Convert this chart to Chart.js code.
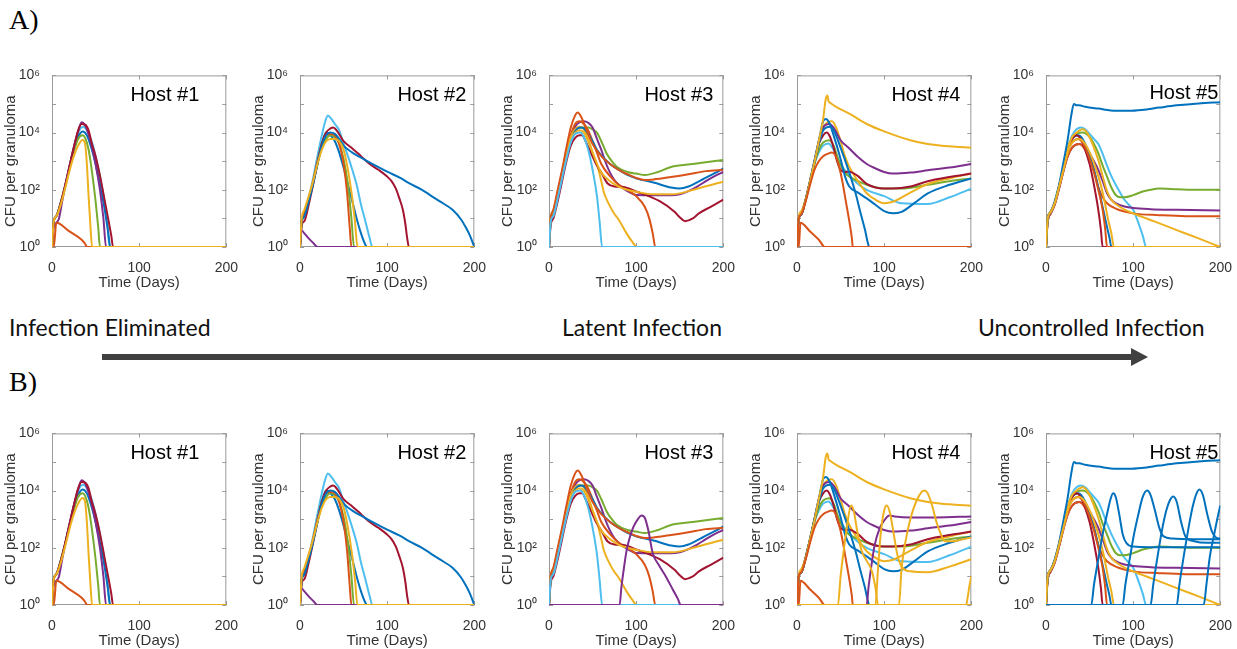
<!DOCTYPE html>
<html>
<head>
<meta charset="utf-8">
<script src="https://cdn.jsdelivr.net/npm/chart.js@4.4.1/dist/chart.umd.min.js"></script>
<style>
  body { margin: 0; width: 1237px; height: 649px; overflow: hidden; background: #fff; position: relative; }
  .panel { position: absolute; width: 241px; height: 229px; }
  .tag { position: absolute; font-family: "Liberation Serif", serif; font-size: 28px; line-height: 28px; color: #000; }
  .stage { position: absolute; font-family: Lato, "Open Sans", sans-serif; font-size: 23px; line-height: 23px; color: #111; white-space: nowrap; }
  svg { position: absolute; left: 0; top: 0; }
</style>
</head>
<body>
<div class="tag" style="left:9px;top:6px">A)</div>
<div class="tag" style="left:9px;top:368px">B)</div>
<div class="stage" style="left:9px;top:316px">Infection Eliminated</div>
<div class="stage" style="left:562px;top:316px">Latent Infection</div>
<div class="stage" style="left:978px;top:316px">Uncontrolled Infection</div>
<svg width="1237" height="649">
  <line x1="102" y1="357" x2="1133" y2="357" stroke="#404040" stroke-width="6"/>
  <polygon points="1131,348 1148,357 1131,366" fill="#404040"/>
</svg>

<div class="panel" style="left:2px;top:63px"><canvas id="a1"></canvas></div>
<div class="panel" style="left:250px;top:63px"><canvas id="a2"></canvas></div>
<div class="panel" style="left:499px;top:63px"><canvas id="a3"></canvas></div>
<div class="panel" style="left:747px;top:63px"><canvas id="a4"></canvas></div>
<div class="panel" style="left:996px;top:63px"><canvas id="a5"></canvas></div>
<div class="panel" style="left:2px;top:421px"><canvas id="b1"></canvas></div>
<div class="panel" style="left:250px;top:421px"><canvas id="b2"></canvas></div>
<div class="panel" style="left:499px;top:421px"><canvas id="b3"></canvas></div>
<div class="panel" style="left:747px;top:421px"><canvas id="b4"></canvas></div>
<div class="panel" style="left:996px;top:421px"><canvas id="b5"></canvas></div>

<script>
// axis ticks
const xTickValues = [0, 100, 200];
const yTickValues = [1, 100, 1e4, 1e6];
const yTickLabels = ["10\u2070", "10\u00b2", "10\u2074", "10\u2076"];
const hostNames = ["Host #1", "Host #2", "Host #3", "Host #4", "Host #5"];

// each curve: [day, CFU] pairs (0 CFU drawn on the 10^0 floor)
const hostA1 = [
  [[0,1],[2,8],[5,12],[10,35],[15,140],[20,650],[25,3000],[30,1e4],[36,1.6e4],[40,1.2e4],[45,5500],[50,1500],[55,300],[60,40],[64,5],[66,1],[200,1]],
  [[0,1],[2,8],[5,12],[10,35],[15,130],[20,600],[25,2500],[30,7000],[35,1.1e4],[40,8000],[45,3000],[50,800],[55,150],[60,25],[64,4],[67,1],[200,1]],
  [[0,1],[2,8],[5,12],[10,35],[15,130],[20,550],[25,2200],[30,6000],[35,8000],[38,6500],[42,2500],[46,400],[50,40],[53,5],[55,1],[200,1]],
  [[0,1],[2,5],[5,7],[8,10],[12,45],[15,130],[20,650],[25,3000],[30,1.1e4],[34,2.3e4],[37,2e4],[40,1.3e4],[45,4000],[50,800],[55,100],[59,10],[62,1],[200,1]],
  [[0,1],[2,1],[5,7],[20,3.5],[34,1.8],[38,1.3],[40,1],[200,1]],
  [[0,1],[2,8],[5,12],[10,35],[15,140],[20,650],[25,3000],[30,1.2e4],[34,2e4],[38,1.9e4],[42,1.2e4],[45,5000],[50,1500],[55,320],[60,50],[65,8],[68,2.5],[70,1],[200,1]],
  [[0,1],[2,8],[5,12],[10,30],[15,110],[20,450],[25,1500],[30,3500],[35,5500],[38,4000],[40,800],[42,60],[44,6],[46,1],[200,1]]
];
const hostA1Colors = ["lightblue", "blue", "green", "purple", "orange", "red", "yellow"];

const hostA2 = [
  [[0,1],[2,8],[5,12],[10,50],[15,250],[20,1500],[25,8000],[29,2.5e4],[32,4e4],[36,3e4],[40,2e4],[45,1.2e4],[50,4000],[55,1500],[60,500],[65,150],[70,30],[75,8],[80,2],[83,1],[200,1]],
  [[0,1],[2,8],[5,12],[10,40],[15,180],[20,900],[25,4000],[30,1e4],[35,8000],[40,5000],[45,2000],[50,600],[55,150],[60,40],[65,10],[70,3],[75,1.2],[77,1],[200,1]],
  [[0,1],[2,8],[5,14],[10,45],[15,180],[20,800],[25,3000],[30,6000],[35,8000],[40,7000],[45,4000],[50,1200],[55,150],[59,10],[62,1],[200,1]],
  [[0,1],[2,8],[5,15],[10,50],[15,200],[20,1000],[25,4000],[30,8000],[35,9000],[40,8000],[45,4000],[50,800],[54,80],[57,5],[59,1],[200,1]],
  [[0,1],[2,6],[5,8],[10,30],[15,150],[20,800],[25,4000],[30,1e4],[35,1.4e4],[38,1.5e4],[42,1.2e4],[50,5000],[60,2800],[70,1500],[80,800],[90,500],[100,290],[105,200],[110,110],[114,50],[118,20],[121,6],[123,2],[125,1],[200,1]],
  [[0,1],[2,8],[5,12],[10,40],[15,160],[20,800],[25,3500],[30,8000],[35,1e4],[40,9000],[45,6000],[50,3500],[60,2000],[75,1100],[90,620],[100,430],[115,260],[125,170],[140,100],[150,63],[160,40],[175,20],[185,9],[190,5],[195,2.5],[200,1]],
  [[0,1],[1,4],[5,3],[10,2],[15,1.4],[20,1],[200,1]],
  [[0,1],[2,10],[5,20],[10,60],[15,200],[20,800],[25,2500],[30,5000],[35,6000],[40,6000],[45,5000],[50,2500],[55,500],[60,50],[63,8],[66,1],[200,1]]
];
const hostA2Colors = ["lightblue", "blue", "green", "orange", "red", "blue", "purple", "yellow"];

const hostA3 = [
  [[0,1],[2,10],[5,15],[10,70],[15,350],[20,1800],[25,7000],[30,1.3e4],[35,1.5e4],[45,1.5e4],[50,1.3e4],[55,1e4],[60,5000],[66,1900],[72,1000],[78,630],[90,420],[100,370],[110,330],[125,420],[140,630],[165,800],[200,1100]],
  [[0,1],[2,10],[5,15],[10,70],[15,350],[20,1800],[25,7000],[30,1.6e4],[35,2.3e4],[40,2.5e4],[45,2.2e4],[50,1.5e4],[55,6000],[60,2500],[65,900],[70,400],[75,220],[80,150],[90,90],[100,66],[120,65],[140,65],[150,70],[160,90],[170,130],[180,200],[190,300],[200,420]],
  [[0,1],[2,10],[5,18],[10,80],[15,400],[20,2000],[25,8000],[30,2e4],[35,2.5e4],[40,2e4],[45,1.2e4],[50,5000],[55,2000],[60,800],[70,300],[80,150],[90,100],[100,60],[110,25],[115,10],[119,3],[122,1],[200,1]],
  [[0,1],[2,10],[5,18],[10,80],[15,400],[20,2000],[25,7000],[30,1.3e4],[35,1.6e4],[40,1.3e4],[45,6000],[50,2000],[55,800],[60,200],[63,80],[68,35],[74,16],[80,9],[89,3],[95,1.6],[101,1],[200,1]],
  [[0,1],[2,6],[5,10],[10,40],[15,200],[20,1000],[25,3500],[30,6500],[35,8000],[38,8000],[42,5000],[48,2000],[55,700],[60,400],[67,170],[75,130],[85,125],[100,87],[127,40],[144,17],[150,11],[156,8],[165,10],[172,15],[185,25],[200,45]],
  [[0,1],[2,8],[5,14],[10,60],[15,300],[20,1500],[25,5000],[30,1.1e4],[36,1.5e4],[40,1.4e4],[45,9000],[50,5000],[55,2500],[60,1600],[70,800],[80,500],[90,330],[100,250],[120,180],[140,120],[150,110],[160,130],[175,220],[190,380],[200,560]],
  [[0,1],[2,10],[5,18],[10,70],[15,350],[20,1700],[25,6000],[30,1e4],[35,1.2e4],[40,1e4],[45,5000],[50,2000],[55,800],[60,400],[70,200],[80,130],[90,100],[100,85],[120,70],[140,70],[150,75],[160,90],[175,120],[190,160],[200,190]],
  [[0,1],[2,10],[5,20],[10,100],[15,500],[20,3000],[25,1.5e4],[30,4e4],[33,5e4],[37,3.5e4],[42,1.5e4],[50,4000],[60,1500],[70,800],[80,500],[90,350],[100,260],[110,220],[120,230],[140,280],[160,350],[180,450],[200,500]],
  [[0,1],[2,8],[5,12],[10,50],[15,250],[20,1200],[25,4500],[30,9000],[36,1e4],[40,7000],[45,2500],[50,500],[55,60],[58,8],[61,1],[200,1]]
];
const hostA3Colors = ["green", "purple", "orange", "yellow", "red", "blue", "yellow", "orange", "lightblue"];

const hostA4 = [
  [[0,1],[2,10],[5,14],[10,45],[15,200],[20,800],[25,2000],[30,3500],[36,4200],[42,2500],[50,800],[60,320],[70,160],[80,100],[100,60],[120,34],[150,32],[175,55],[200,110]],
  [[0,1],[2,10],[5,14],[10,45],[15,200],[20,800],[25,2500],[30,4500],[37,5400],[42,3500],[48,1000],[55,400],[60,290],[70,200],[80,150],[100,110],[120,110],[150,150],[175,200],[200,250]],
  [[0,1],[2,12],[5,18],[10,50],[15,220],[20,1000],[25,5000],[30,1.5e4],[35,2.3e4],[40,2.5e4],[45,1.5e4],[50,5000],[55,1500],[60,630],[70,200],[80,76],[90,45],[100,34],[110,38],[130,80],[150,160],[175,250],[200,370]],
  [[0,1],[2,10],[5,14],[10,45],[15,200],[20,900],[25,4000],[30,8000],[34,1e4],[38,7000],[42,3000],[46,1000],[50,500],[55,420],[60,430],[70,300],[80,160],[90,120],[100,110],[110,110],[130,130],[150,200],[175,280],[200,370]],
  [[0,1],[2,10],[5,14],[10,45],[15,200],[20,1000],[25,5000],[30,1.5e4],[37,2e4],[42,1.5e4],[50,5400],[60,2800],[70,1400],[80,800],[90,560],[100,420],[110,370],[130,400],[150,480],[175,600],[200,800]],
  [[0,1],[2,10],[5,14],[10,45],[15,200],[20,1000],[25,5000],[30,2.5e4],[33,3e4],[37,2.2e4],[42,8000],[50,1200],[55,300],[60,130],[70,80],[80,50],[90,30],[100,18],[110,15],[120,17],[135,35],[150,75],[175,150],[200,250]],
  [[0,1],[2,10],[5,14],[10,45],[15,200],[20,900],[25,4000],[30,1.2e4],[38,1.6e4],[42,1.2e4],[50,3000],[60,400],[67,80],[73,15],[78,4],[81,1.5],[83,1],[200,1]],
  [[0,1],[2,10],[5,16],[10,45],[15,200],[20,900],[25,5000],[30,3e4],[33,1.5e5],[35,2e5],[36,1.3e5],[38,1.1e5],[45,8e4],[60,4.6e4],[80,2e4],[100,1.1e4],[130,5400],[150,4000],[175,3300],[200,2950]],
  [[0,1],[2,1],[4,7],[15,3.5],[25,1.8],[32,1],[200,1]],
  [[0,1],[2,10],[5,14],[10,40],[15,150],[20,500],[25,1000],[30,1500],[35,1800],[40,2000],[44,1600],[48,700],[52,200],[56,40],[60,8],[63,2],[64,1],[200,1]]
];
const hostA4Colors = ["lightblue", "green", "yellow", "red", "purple", "blue", "blue", "yellow", "orange", "orange"];

const hostA5 = [
  [[0,1],[2,10],[5,16],[10,35],[15,130],[20,600],[25,2800],[30,8000],[35,1.3e4],[40,1.5e4],[45,1.3e4],[50,9000],[55,6000],[60,4000],[65,1800],[70,700],[75,300],[80,150],[85,80],[90,45],[95,30],[100,20],[106,7],[111,2.5],[115,1],[200,1]],
  [[0,1],[2,10],[5,16],[10,35],[15,130],[20,600],[25,2500],[30,6000],[35,9000],[42,1e4],[50,7000],[55,4000],[60,1900],[65,700],[70,290],[75,120],[80,66],[85,55],[90,55],[100,65],[110,85],[120,100],[130,110],[150,105],[175,100],[200,100]],
  [[0,1],[2,8],[5,14],[10,30],[15,110],[20,450],[25,1500],[30,3000],[38,4000],[45,3000],[50,1800],[55,1000],[60,500],[65,200],[70,76],[75,45],[80,34],[90,26],[100,23],[120,21],[150,20],[200,19]],
  [[0,1],[2,8],[5,14],[10,30],[15,110],[20,450],[25,1500],[30,3000],[38,4000],[45,2500],[50,1200],[55,500],[60,125],[65,55],[70,34],[80,22],[100,15],[130,13],[160,12],[200,12]],
  [[0,1],[2,10],[5,16],[10,35],[15,130],[20,600],[25,2500],[30,6000],[37,8000],[42,6000],[48,2500],[55,500],[60,120],[65,25],[70,5],[73,2],[75,1],[200,1]],
  [[0,1],[2,10],[5,16],[10,35],[15,130],[20,600],[25,2500],[30,6000],[35,8000],[39,6500],[44,3000],[50,800],[55,150],[60,20],[63,4],[65,1],[200,1]],
  [[0,1],[2,10],[5,16],[10,35],[15,130],[20,600],[25,2200],[30,4500],[37,6000],[42,4500],[48,1800],[55,400],[60,100],[65,20],[68,4],[70,1],[200,1]],
  [[0,1],[2,10],[5,16],[10,35],[15,130],[20,600],[25,2800],[30,7000],[35,1e4],[42,1.3e4],[48,9000],[55,3000],[60,1100],[65,300],[70,90],[75,45],[85,25],[100,15],[125,7.7],[150,3.9],[175,2],[200,1]],
  [[0,1],[2,10],[5,16],[10,40],[15,150],[20,900],[25,6000],[29,4e4],[32,1e5],[35,9e4],[38,9e4],[45,8e4],[60,6.9e4],[80,5.8e4],[95,5.8e4],[110,6.2e4],[130,7.5e4],[150,9e4],[175,1.05e5],[200,1.15e5]],
  [[0,1],[2,10],[5,16],[10,35],[15,130],[20,500],[25,2000],[30,4500],[38,6000],[45,4000],[52,1500],[60,300],[66,60],[71,10],[75,3],[78,1],[200,1]]
];
const hostA5Colors = ["lightblue", "green", "purple", "orange", "blue", "red", "orange", "yellow", "blue", "yellow"];

// extra trajectories that only appear in row B
const extraB3 = [
  [[0,1],[81,1],[83,4],[86,20],[89,80],[93,250],[97,550],[102,1000],[106,1350],[110,1100],[114,400],[119,65],[126,25],[134,10],[142,3.5],[148,1.6],[151,1],[200,1]]
];
const extraB3Colors = ["purple"];

const extraB4 = [
  [[0,1],[80,1],[82,4],[85,20],[89,120],[95,500],[100,900],[106,1350],[112,1250],[130,1150],[160,1150],[200,1250]],
  [[0,1],[47,1],[50,10],[54,100],[58,800],[62,3000],[65,2000],[69,400],[74,80],[80,35],[86,15],[90,4],[93,1],[200,1]],
  [[0,1],[90,1],[93,20],[96,300],[100,2000],[103,3000],[107,1500],[111,300],[115,60],[120,22],[130,15],[150,14],[175,22],[200,40]],
  [[0,1],[117,1],[120,20],[125,200],[130,1000],[138,5000],[146,1e4],[150,8000],[155,3000],[160,800],[165,300],[170,170],[180,170],[190,200],[200,230]],
  [[0,1],[194,1],[196,2],[198,5],[200,10]]
];
const extraB4Colors = ["purple", "yellow", "yellow", "yellow", "yellow"];

const extraB5 = [
  [[0,1],[52,1],[55,5],[60,40],[65,300],[70,1500],[74,5000],[77,8000],[80,6000],[84,1500],[88,300],[92,150],[100,110],[120,105],[150,105],[200,105]],
  [[0,1],[88,1],[91,5],[96,40],[101,300],[106,1500],[111,6000],[116,1e4],[120,7000],[125,2000],[130,500],[135,250],[145,210],[170,200],[200,200]],
  [[0,1],[120,1],[123,5],[128,50],[133,400],[138,2000],[142,4500],[146,6200],[150,4000],[155,800],[160,250],[170,170],[185,150],[200,150]],
  [[0,1],[150,1],[153,5],[158,50],[163,400],[168,2500],[172,7000],[176,1.1e4],[180,7000],[185,1500],[190,400],[195,230],[200,210]],
  [[0,1],[181,1],[184,5],[188,50],[193,300],[197,1200],[200,3000]]
];
const extraB5Colors = ["blue", "blue", "blue", "blue", "blue"];

const palette = {
  blue: "#0072BD", orange: "#D95319", yellow: "#EDB120", purple: "#7E2F8E",
  green: "#77AC30", lightblue: "#4DBEEE", red: "#A2142F"
};
const labelInsets = [27, 8, 10, 11, 2];

const framePlugin = {
  id: "frame",
  beforeDatasetsDraw(chart) {
    const { ctx, chartArea: a, scales } = chart;
    ctx.save();
    ctx.strokeStyle = "#9a9a9a";
    ctx.lineWidth = 1;
    ctx.strokeRect(a.left + 0.5, a.top + 0.5, a.right - a.left - 1, a.bottom - a.top - 1);
    ctx.beginPath();
    xTickValues.forEach(v => {
      const x = Math.round(scales.x.getPixelForValue(v)) + 0.5;
      ctx.moveTo(x, a.bottom); ctx.lineTo(x, a.bottom - 4);
      ctx.moveTo(x, a.top); ctx.lineTo(x, a.top + 4);
    });
    [1, 10, 100, 1e3, 1e4, 1e5, 1e6].forEach(v => {
      const y = Math.round(scales.y.getPixelForValue(v)) + 0.5;
      ctx.moveTo(a.left, y); ctx.lineTo(a.left + 4, y);
      ctx.moveTo(a.right, y); ctx.lineTo(a.right - 4, y);
    });
    ctx.stroke();
    ctx.restore();
  },
  afterDatasetsDraw(chart, args, opts) {
    const { ctx, chartArea: a } = chart;
    ctx.save();
    ctx.font = '20px "Liberation Sans", Arial, sans-serif';
    ctx.fillStyle = "#000";
    ctx.textAlign = "right";
    ctx.textBaseline = "alphabetic";
    ctx.fillText(opts.text, a.right - opts.inset, a.top + opts.baseline);
    ctx.restore();
  }
};

const axisFont = { family: '"Liberation Sans", Arial, sans-serif', size: 14 };
const titleFont = { family: '"Liberation Sans", Arial, sans-serif', size: 15 };

function makePanel(id, curves, colorKeys, host) {
  const n = curves.length;
  new Chart(document.getElementById(id), {
    type: "line",
    data: {
      datasets: curves.map((pts, i) => ({
        data: pts,
        borderColor: palette[colorKeys[i]],
        borderWidth: 2,
        pointRadius: 0,
        fill: false,
        cubicInterpolationMode: "monotone",
        order: n - i
      }))
    },
    options: {
      responsive: true,
      maintainAspectRatio: false,
      animation: false,
      events: [],
      layout: { padding: { top: 12, right: 14, left: 0, bottom: 0 } },
      plugins: {
        legend: { display: false },
        tooltip: { enabled: false },
        frame: { text: hostNames[host], inset: labelInsets[host], baseline: id === "a5" ? 24 : 26 }
      },
      scales: {
        x: {
          type: "linear", min: 0, max: 200,
          grid: { display: false }, border: { display: false },
          afterBuildTicks: s => { s.ticks = xTickValues.map(v => ({ value: v })); },
          afterFit: s => { s.height = 45; },
          ticks: { font: axisFont, color: "#333", padding: 5, maxRotation: 0 },
          title: { display: true, text: "Time (Days)", font: titleFont, color: "#333", padding: { top: 1, bottom: 0 } }
        },
        y: {
          type: "logarithmic", min: 1, max: 1e6,
          grid: { display: false }, border: { display: false },
          afterBuildTicks: s => { s.ticks = yTickValues.map(v => ({ value: v })); },
          afterFit: s => { s.width = 50; },
          ticks: { font: axisFont, color: "#333", padding: 4, callback: v => yTickLabels[yTickValues.indexOf(v)] },
          title: { display: true, text: "CFU per granuloma", font: titleFont, color: "#333", padding: { top: 0, bottom: 2 } }
        }
      }
    },
    plugins: [framePlugin]
  });
}

makePanel("a1", hostA1, hostA1Colors, 0);
makePanel("a2", hostA2, hostA2Colors, 1);
makePanel("a3", hostA3, hostA3Colors, 2);
makePanel("a4", hostA4, hostA4Colors, 3);
makePanel("a5", hostA5, hostA5Colors, 4);
makePanel("b1", hostA1, hostA1Colors, 0);
makePanel("b2", hostA2, hostA2Colors, 1);
makePanel("b3", hostA3.concat(extraB3), hostA3Colors.concat(extraB3Colors), 2);
makePanel("b4", hostA4.concat(extraB4), hostA4Colors.concat(extraB4Colors), 3);
makePanel("b5", hostA5.concat(extraB5), hostA5Colors.concat(extraB5Colors), 4);
</script>
</body>
</html>
